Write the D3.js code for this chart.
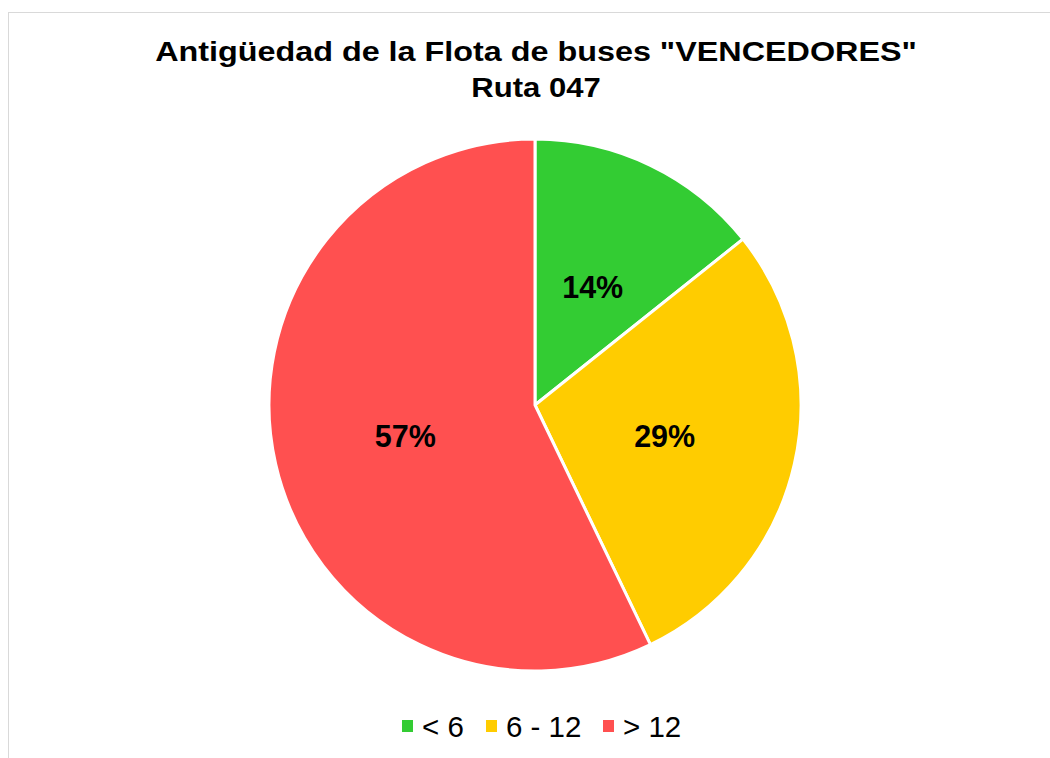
<!DOCTYPE html>
<html><head><meta charset="utf-8">
<script src="https://cdn.jsdelivr.net/npm/d3@7"></script>
<style>body{margin:0;background:#fff}svg{display:block;font-family:Arial,"Liberation Sans",sans-serif}</style>
</head><body>
<svg id="c" width="1050" height="758"></svg>
<script>
const categories = ["< 6", "6 - 12", "> 12"];
const values = [1, 2, 4];
const colors = ["#33CC33", "#FFCC00", "#FF5050"];
const titleLines = ["Antigüedad de la Flota de buses \"VENCEDORES\"", "Ruta 047"];

const svg = d3.select("#c");
svg.append("rect").attr("x", 8.5).attr("y", 12.5).attr("width", 1100).attr("height", 800)
  .attr("fill", "#fff").attr("stroke", "#d9d9d9").attr("stroke-width", 1);

const titleScale = [1.155, 1.11];
titleLines.forEach((t, i) => {
  svg.append("text").attr("text-anchor", "middle").attr("font-weight", "bold")
    .attr("font-size", 28).attr("fill", "#000")
    .attr("transform", `translate(536,${61 + i * 36}) scale(${titleScale[i]},1)`)
    .text(t);
});

const cx = 535, cy = 405, r = 266;
const total = d3.sum(values);
const pie = d3.pie().sort(null).value(d => d)(values);
const arc = d3.arc().innerRadius(0).outerRadius(r);
const labelArc = d3.arc().innerRadius(r * 0.5).outerRadius(r * 0.5);
const g = svg.append("g").attr("transform", `translate(${cx},${cy})`);
g.selectAll("path").data(pie).join("path")
  .attr("d", arc).attr("fill", (d, i) => colors[i])
  .attr("stroke", "#fff").attr("stroke-width", 3).attr("stroke-linejoin", "round");
g.selectAll("text").data(pie).join("text")
  .attr("transform", d => `translate(${labelArc.centroid(d)})`)
  .attr("text-anchor", "middle").attr("dy", "0.42em")
  .attr("font-weight", "bold").attr("font-size", 30.5).attr("fill", "#000")
  .text(d => d3.format(".0%")(d.value / total));

const legendX = [402, 486, 603];
const lg = svg.append("g");
categories.forEach((c, i) => {
  lg.append("rect").attr("x", legendX[i]).attr("y", 720).attr("width", 11).attr("height", 12).attr("fill", colors[i]);
  lg.append("text").attr("x", legendX[i] + 20).attr("y", 736.5).attr("font-size", 29.5).attr("fill", "#000").text(c);
});
</script>
</body></html>
